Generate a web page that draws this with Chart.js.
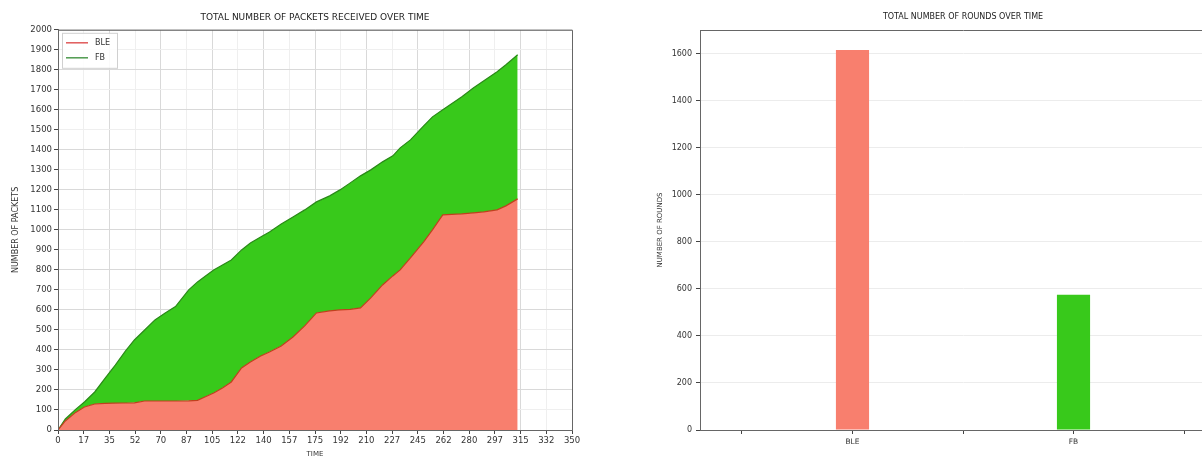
<!DOCTYPE html>
<html lang="en">
<head>
<meta charset="UTF-8"/>
<title>Packets and rounds over time</title>
<script src="https://cdn.jsdelivr.net/npm/chart.js"></script>
<style>
    html, body {
        margin: 0;
        padding: 0;
        background: #fff;
        width: 1202px;
        height: 456px;
        overflow: hidden;
    }
    .panel { position: absolute; top: 0; }
    #left-panel { left: 0; }
    #right-panel { left: 620px; }
</style>
</head>
<body>
<div class="panel" id="left-panel"><canvas id="packetsChart" width="600" height="462"></canvas></div>
<div class="panel" id="right-panel"><canvas id="roundsChart" width="640" height="462"></canvas></div>

<script>
    // cumulative packets
    const timeSteps  = [0, 5, 12, 18, 25, 32, 39, 46, 52, 59, 66, 73, 80, 89, 95, 100, 106, 112, 118, 125, 131, 138, 144, 152, 160, 168, 176, 185, 192, 199, 206, 213, 221, 228, 233, 240, 249, 255, 262, 268, 275, 283, 290, 299, 305, 313];
    const blePackets = [0, 45, 88, 115, 130, 133, 134, 135, 136, 145, 145, 145, 145, 146, 148, 165, 185, 210, 240, 310, 340, 370, 390, 420, 465, 520, 585, 595, 600, 603, 610, 660, 725, 770, 800, 860, 940, 1000, 1075, 1078, 1080, 1085, 1090, 1100, 1120, 1155];
    const fbPackets  = [0, 10, 15, 25, 60, 125, 190, 260, 314, 355, 405, 440, 472, 554, 592, 602, 615, 615, 610, 590, 595, 595, 600, 610, 600, 580, 555, 575, 600, 632, 660, 640, 615, 600, 610, 590, 580, 565, 525, 552, 585, 625, 655, 690, 705, 720];

    const timeTicks = 17.5;

    // rounds per protocol
    const protocols = ['BLE', 'FB'];
    const rounds    = [1615, 575];

    const salmon = '#f87f6e';
    const green  = '#38c91b';

    Chart.defaults.font.family = "'DejaVu Sans', sans-serif";
    Chart.defaults.color = '#333';

    const framePlugin = {
        id: 'frame',
        afterDatasetsDraw(chart, args, opts) {
            const a = chart.chartArea;
            const ctx = chart.ctx;
            ctx.save();
            ctx.strokeStyle = opts.color || '#666';
            ctx.lineWidth = 1;
            ctx.beginPath();
            ctx.moveTo(a.left + 0.5, a.bottom + 0.5);
            ctx.lineTo(a.left + 0.5, a.top + 0.5);
            ctx.lineTo(a.right + 0.5, a.top + 0.5);
            ctx.lineTo(a.right + 0.5, a.bottom + 0.5);
            ctx.lineTo(a.left + 0.5, a.bottom + 0.5);
            ctx.stroke();
            ctx.restore();
        }
    };

    // matplotlib-like legend inside the plot, with a box round it
    const boxLegend = {
        id: 'boxLegend',
        afterDraw(chart, args, opts) {
            if (!opts.items) return;
            const ctx = chart.ctx;
            const a = chart.chartArea;
            const x = a.left + 4, y = a.top + 3;
            ctx.save();
            ctx.fillStyle = 'rgba(255,255,255,0.85)';
            ctx.strokeStyle = '#d0d0d0';
            ctx.lineWidth = 1;
            ctx.fillRect(x + 0.5, y + 0.5, 55, 35);
            ctx.strokeRect(x + 0.5, y + 0.5, 55, 35);
            ctx.font = "8px 'DejaVu Sans', sans-serif";
            ctx.textBaseline = 'middle';
            opts.items.forEach((item, i) => {
                const ly = y + 10 + i * 15;
                ctx.strokeStyle = item.color;
                ctx.lineWidth = 1.5;
                ctx.beginPath();
                ctx.moveTo(x + 4, ly);
                ctx.lineTo(x + 26, ly);
                ctx.stroke();
                ctx.fillStyle = '#333';
                ctx.fillText(item.label, x + 33, ly);
            });
            ctx.restore();
        }
    };

    const majorMinor = (ctx) => (ctx.index % 2 === 0 ? '#d9d9d9' : '#efefef');

    new Chart(document.getElementById('packetsChart'), {
        type: 'line',
        data: {
            datasets: [{
                label: 'BLE',
                data: timeSteps.map((t, i) => ({ x: t, y: blePackets[i] })),
                borderColor: '#c0401e',
                backgroundColor: salmon,
                borderWidth: 1.2,
                pointRadius: 0,
                fill: 'origin'
            }, {
                label: 'FB',
                data: timeSteps.map((t, i) => ({ x: t, y: fbPackets[i] })),
                borderColor: '#2a8a18',
                backgroundColor: green,
                borderWidth: 1.2,
                pointRadius: 0,
                fill: '-1'
            }]
        },
        options: {
            responsive: false,
            animation: false,
            layout: { padding: { left: 0, right: 28, top: 0, bottom: 0 } },
            scales: {
                x: {
                    type: 'linear',
                    min: 0,
                    max: 350,
                    afterFit: (s) => { s.height = 32; },
                    ticks: {
                        stepSize: timeTicks,
                        autoSkip: false,
                        maxRotation: 0,
                        padding: 2,
                        font: { size: 8.5 },
                        callback: (v) => String(Math.floor(v + 1e-9))
                    },
                    grid: { color: majorMinor, tickColor: '#444', tickLength: 4 },
                    border: { color: '#666' },
                    title: { display: true, text: 'TIME', font: { size: 7 }, padding: { top: 0, bottom: 4 } }
                },
                y: {
                    stacked: true,
                    min: 0,
                    max: 2000,
                    afterFit: (s) => { s.width = 58; },
                    ticks: { stepSize: 100, autoSkip: false, padding: 2, font: { size: 8.5 }, callback: (v) => String(v) },
                    grid: { color: majorMinor, tickColor: '#444', tickLength: 4 },
                    border: { color: '#666' },
                    title: { display: true, text: 'NUMBER OF PACKETS', font: { size: 8 }, padding: { top: 11, bottom: 0 } }
                }
            },
            plugins: {
                legend: { display: false },
                tooltip: { enabled: false },
                title: {
                    display: true,
                    fullSize: false,
                    text: 'TOTAL NUMBER OF PACKETS RECEIVED OVER TIME',
                    color: '#222',
                    font: { size: 9, weight: 'normal' },
                    padding: { top: 12, bottom: 7 }
                },
                frame: { color: '#666' },
                boxLegend: { items: [{ label: 'BLE', color: '#e05a5a' }, { label: 'FB', color: '#4f9a4f' }] }
            }
        },
        plugins: [framePlugin, boxLegend]
    });

    new Chart(document.getElementById('roundsChart'), {
        type: 'bar',
        data: {
            datasets: [{
                label: 'rounds',
                data: protocols.map((p, i) => ({ x: i, y: rounds[i] })),
                backgroundColor: [salmon, green],
                borderWidth: 0,
                categoryPercentage: 1,
                barPercentage: 0.3
            }]
        },
        options: {
            responsive: false,
            animation: false,
            layout: { padding: { left: 0, right: 34, top: 0, bottom: 0 } },
            scales: {
                x: {
                    type: 'linear',
                    offset: false,
                    min: -0.69,
                    max: 1.69,
                    afterFit: (s) => { s.height = 32; },
                    afterBuildTicks: (s) => {
                        s.ticks = s.ticks.filter(t => Math.abs(t.value * 2 - Math.round(t.value * 2)) < 1e-6);
                    },
                    ticks: {
                        stepSize: 0.5,
                        autoSkip: false,
                        maxRotation: 0,
                        padding: 4,
                        font: { size: 7.5 },
                        callback: (v) => (Number.isInteger(v) && protocols[v] !== undefined ? protocols[v] : '')
                    },
                    grid: { drawOnChartArea: false, offset: false, tickColor: '#444', tickLength: 4 },
                    border: { color: '#666' }
                },
                y: {
                    min: 0,
                    max: 1700,
                    afterFit: (s) => { s.width = 80; },
                    afterBuildTicks: (s) => {
                        s.ticks = s.ticks.filter(t => t.value % 200 === 0);
                    },
                    ticks: { stepSize: 200, autoSkip: false, padding: 4, font: { size: 8 }, callback: (v) => String(v) },
                    grid: { color: '#ececec', tickColor: '#444', tickLength: 4 },
                    border: { color: '#666' },
                    title: { display: true, text: 'NUMBER OF ROUNDS', font: { size: 7 }, padding: { top: 36, bottom: 0 } }
                }
            },
            plugins: {
                legend: { display: false },
                tooltip: { enabled: false },
                title: {
                    display: true,
                    fullSize: false,
                    text: 'TOTAL NUMBER OF ROUNDS OVER TIME',
                    color: '#222',
                    font: { size: 8, weight: 'normal' },
                    padding: { top: 12, bottom: 8.4 }
                },
                frame: { color: '#666' }
            }
        },
        plugins: [framePlugin]
    });
</script>
</body>
</html>
